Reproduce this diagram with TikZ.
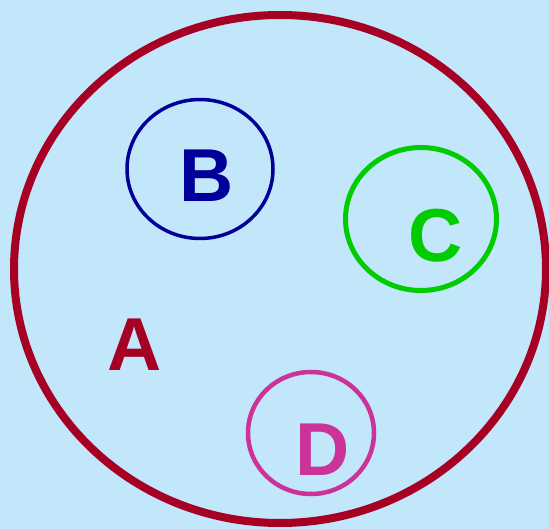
\documentclass[tikz,border=0pt]{standalone}
\usepackage{fontspec}
\setmainfont{Liberation Sans}
\usetikzlibrary{shapes.geometric}
\definecolor{setred}{RGB}{166, 0, 36}
\definecolor{setblue}{RGB}{0, 0, 153}
\definecolor{setgreen}{RGB}{0, 204, 0}
\definecolor{setpink}{RGB}{204, 51, 153}
\definecolor{skybg}{RGB}{194, 230, 250}

\begin{document}
\begin{tikzpicture}[
        x=1pt, y=-1pt,
        ring/.style={ellipse, draw, inner sep=0pt},
        lbl/.style={inner sep=0pt, font=\fontsize{75}{75}\selectfont\bfseries},
    ]
        \fill[skybg] (0,0) rectangle (549,529);
        \useasboundingbox (0,0) rectangle (549,529);

        \node[ring, draw=setred,   line width=8pt,   minimum width=532pt, minimum height=508pt] (setA) at (280,269) {};
        \node[ring, draw=setblue,  line width=3.5pt, minimum width=146pt, minimum height=139pt] (setB) at (200,169) {};
        \node[ring, draw=setgreen, line width=5pt,   minimum width=151pt, minimum height=143pt] (setC) at (421,219) {};
        \node[ring, draw=setpink,  line width=4.5pt, minimum width=126pt, minimum height=122pt] (setD) at (311,433) {};

        \node[lbl, text=setred]   (labA) at (135,345) {A};
        \node[lbl, text=setblue]  (labB) at (207,176) {B};
        \node[lbl, text=setgreen] (labC) at (436,236) {C};
        \node[lbl, text=setpink]  (labD) at (323,450) {D};
    \end{tikzpicture}
\end{document}
